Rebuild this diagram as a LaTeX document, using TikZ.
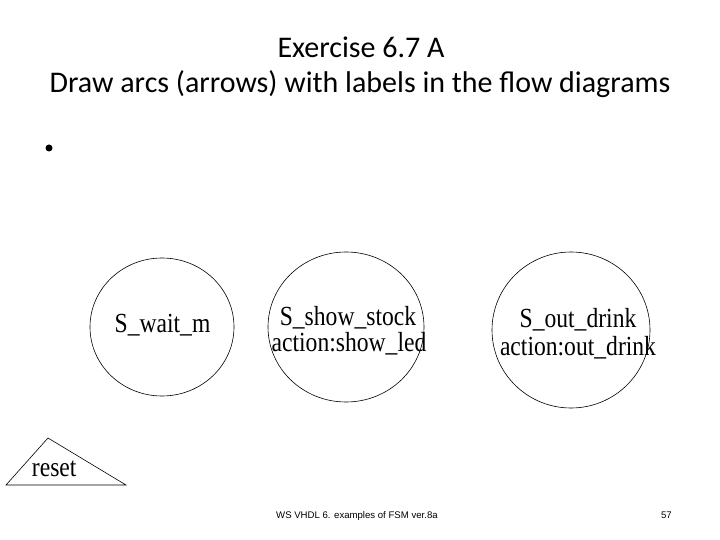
\documentclass[tikz,border=0pt]{standalone}
\usepackage{fontspec}
\setmainfont{Liberation Serif}
\newfontfamily\titlefont{Carlito}
\newfontfamily\footfont{Liberation Sans}
\usetikzlibrary{shapes.geometric}
\newcommand\vstretch[1]{\scalebox{1}[1.17]{#1}}
\tikzset{
  statebox/.style={draw, ellipse, line width=0.6pt, inner sep=0pt},
  statetext/.style={anchor=base, inner sep=0pt, font=\fontsize{23.6}{28}\selectfont},
  titletext/.style={anchor=base, inner sep=0pt, font=\titlefont\fontsize{30}{36}\selectfont},
  foottext/.style={inner sep=0pt, font=\footfont\fontsize{9.6}{11}\selectfont}
}
\begin{document}
\begin{tikzpicture}[x=1pt, y=-1pt]
\useasboundingbox (0,0) rectangle (720,540);
\fill[white] (0,0) rectangle (720,540);
% title
\node[titletext] (t1) at (361,58) {Exercise 6.7 A};
\node[titletext] (t2) at (360,93) {Draw arcs (arrows) with labels in the flow diagrams};
% bullet
\fill (49,148) circle (3.5);
% states
\node[statebox, minimum width=144pt, minimum height=138pt] (s1) at (162,327) {};
\node[statebox, minimum width=156pt, minimum height=150pt] (s2) at (346,327) {};
\node[statebox, minimum width=158pt, minimum height=156pt] (s3) at (571,330) {};
\node[statetext] (l1) at (162.5,332) {\vstretch{S\_wait\_m}};
\node[statetext] (l2a) at (348,325) {\vstretch{S\_show\_stock}};
\node[statetext] (l2b) at (349,351) {\vstretch{action:show\_led}};
\node[statetext] (l3a) at (578,327) {\vstretch{S\_out\_drink}};
\node[statetext] (l3b) at (578,355) {\vstretch{action:out\_drink}};
% reset triangle
\coordinate (ta) at (6,485);
\coordinate (tb) at (48,438);
\coordinate (tc) at (126,485);
\draw[line width=0.6pt] (ta) -- (tb) -- (tc) -- cycle;
\node[statetext] (r) at (54.2,476) {\vstretch{reset}};
% footer
\node[foottext, anchor=base west] (f1) at (276,518) {WS VHDL 6. examples of FSM ver.8a};
\node[foottext, anchor=base east] (f2) at (672,518) {57};
\end{tikzpicture}
\end{document}
